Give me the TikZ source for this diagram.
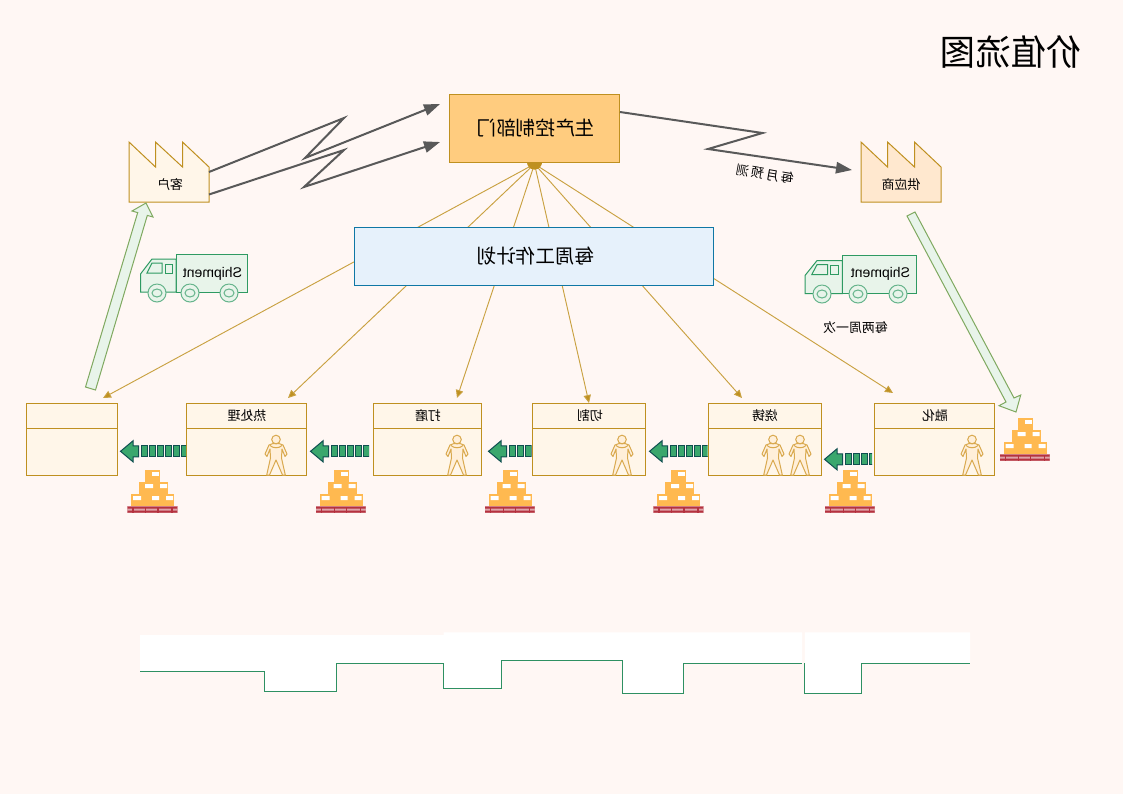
\documentclass[tikz,border=0pt]{standalone}
\usepackage{graphicx}
\usepackage{fontspec}
\usetikzlibrary{arrows.meta}
\setmainfont{Noto Sans CJK SC}
\newfontfamily\latinfont{Liberation Sans}
\definecolor{paper}{HTML}{FFF7F4}
\definecolor{gold}{HTML}{BF9020}
\definecolor{cream}{HTML}{FFF6E9}
\definecolor{peach}{HTML}{FFE8CF}
\definecolor{amber}{HTML}{FFCC7F}
\definecolor{skyfill}{HTML}{E6F1FB}
\definecolor{skyline}{HTML}{0F77A5}
\definecolor{slate}{HTML}{595959}
\definecolor{mint}{HTML}{E8F4EA}
\definecolor{truckline}{HTML}{2E9A62}
\definecolor{wheelline}{HTML}{66B48C}
\definecolor{leaf}{HTML}{7FA960}
\definecolor{pushfill}{HTML}{3AA76D}
\definecolor{pushline}{HTML}{0F4F50}
\definecolor{crate}{HTML}{FFB950}
\definecolor{pallet}{HTML}{B5323F}
\definecolor{skin}{HTML}{FFEFD9}
\definecolor{skinline}{HTML}{D9A94E}
\definecolor{stepline}{HTML}{2E9062}
\def\pxu{0.75pt}
% mirrored lettering
\newcommand\mir[1]{\scalebox{-1}[1]{#1}}
\tikzset{
  boxbase/.style={draw=gold,line width=0.75pt,inner sep=0pt,outer sep=0pt},
  procbox/.style={boxbase,fill=cream,minimum height=72*\pxu},
  planbox/.style={boxbase,fill=amber,minimum width=170.5*\pxu,minimum height=68*\pxu,font=\fontsize{14.7pt}{16pt}\selectfont},
  weekbox/.style={draw=skyline,fill=skyfill,line width=0.75pt,inner sep=0pt,minimum width=359.5*\pxu,minimum height=58.5*\pxu,font=\fontsize{14.7pt}{16pt}\selectfont},
  smalltext/.style={font=\fontsize{9.7pt}{11pt}\selectfont,inner sep=0pt},
  trucktext/.style={font=\latinfont\fontsize{10.5pt}{12pt}\selectfont,inner sep=0pt},
  infoline/.style={draw=gold!85,line width=0.7pt},
  infotip/.style={infoline,-{Triangle[length=6pt,width=5.5pt,fill=gold]}},
  zigzag/.style={draw=slate,line width=1.5pt,miter limit=10,-{Triangle[length=12pt,width=8.5pt,fill=slate]}},
  shiparrow/.style={draw=leaf,fill=mint,line width=0.75pt,line join=miter},
  factory/.style={draw=gold,line width=0.75pt},
}
% factory outline, top left corner at the origin of the scope
\newcommand\factoryshape[1]{%
  \draw[factory,fill=#1] (0,0) -- (26.5,25) -- (26.5,0) -- (53.5,25) -- (53.5,0) -- (80,25) -- (80,60) -- (0,60) -- cycle;}
% truck with its cab to the left; origin at the lower left of the cab
\newcommand\truckshape{%
  \draw[truckline,fill=mint,line width=0.75pt] (35.5,0) -- (35.5,-38) -- (106.5,-38) -- (106.5,0) -- cycle;
  \draw[truckline,fill=mint,line width=0.75pt] (35.5,0) -- (0,0) -- (0,-18) -- (11.5,-33) -- (35.5,-33) -- cycle;
  \draw[truckline,line width=0.75pt] (6.5,-19) -- (11.5,-29) -- (21.5,-29) -- (21.5,-19) -- cycle;
  \draw[truckline,line width=0.75pt] (24.5,-28) rectangle (32,-19);
}
\newcommand\wheelshape[1]{%
  \draw[wheelline,fill=mint,line width=0.75pt] (#1) circle[radius=9];
  \draw[wheelline,line width=0.75pt] (#1) circle[x radius=5,y radius=4];
}
% standing operator, feet on the origin
\newcommand\operator[1]{%
  \begin{scope}[shift={(#1,475)}]
    \draw[skinline,fill=skin,line width=0.75pt,line join=round]
      (-3,-31.5) -- (-7,-30) -- (-11,-21) -- (-9,-18.5) -- (-6,-26) -- (-5.5,-17) -- (-9.3,0) -- (-6.5,0) -- (0,-15)
      -- (6.5,0) -- (9.3,0) -- (5.5,-17) -- (6,-26) -- (9,-18.5) -- (11,-21) -- (7,-30) -- (3,-31.5) -- cycle;
    \draw[skinline,line width=0.75pt] (-6,-29.5) .. controls (-3,-26.5) and (3,-26.5) .. (6,-29.5);
    \draw[skinline,fill=skin,line width=0.75pt] (0,-35.5) circle[radius=4.3];
  \end{scope}}
% pile of crates on a pallet
\newcommand\cratepile[2]{%
  \begin{scope}[shift={(#1,#2)}]
    \fill[crate] (18,0) rectangle (33,12);
    \fill[crate] (12,12) rectangle (41,24);
    \fill[crate] (4,24) rectangle (47,36);
    \fill[white] (25,2) rectangle (32,6);
    \fill[white] (18,14) rectangle (26,18) (33,14) rectangle (40,18);
    \fill[white] (6,26) rectangle (14,30) (25,26) rectangle (32,30) (39,26) rectangle (46,30);
    \fill[pallet!45] (0,36) rectangle (50.5,42.7);
    \fill[pallet] (0.5,36.6) rectangle (50,38.6) (0.5,40.6) rectangle (50,42.6);
    \foreach \t in {6,18.5,31,45} \fill[pallet] (\t-0.6,36.6) rectangle (\t+0.6,42.6);
  \end{scope}}
% push arrow pointing left: tip x, tail x, centre y
\newcommand\pusharrow[3]{%
  \begin{scope}[shift={(#1,#3)}]
    \filldraw[draw=pushline,fill=pushfill,line width=0.75pt] (0,0) -- (12.5,-10.5) -- (12.5,-5.5) -- (18,-5.5) -- (18,5.5) -- (12.5,5.5) -- (12.5,10.5) -- cycle;
    \pgfmathsetmacro\lastx{#2-#1}
    \begin{scope}
      \clip (19.5,-7) rectangle (\lastx,7);
      \foreach \b in {20.5,28.5,...,76.5} \filldraw[draw=pushline,fill=pushfill,line width=0.75pt] (\b,-5.5) rectangle (\b+6,5.5);
    \end{scope}
  \end{scope}}
\begin{document}
\begin{tikzpicture}[x=\pxu,y=-\pxu]
\useasboundingbox (0,0) rectangle (1123,794);
\fill[paper] (0,0) rectangle (1123,794);

\node[inner sep=0pt,font=\fontsize{26.5pt}{30pt}\selectfont] (title) at (1011,52) {\mir{价值流图}};

% anchor points of the information flow
\coordinate (hub) at (534.5,164);
\coordinate (toShip) at (103,398);
\coordinate (toHeat) at (288,398);
\coordinate (toGrind) at (457,398);
\coordinate (toCut) at (589,403);
\coordinate (toCast) at (742,398);
\coordinate (toMelt) at (893,393);
\foreach \t in {toShip,toHeat,toGrind,toCut,toCast,toMelt}
  \draw[infotip] (hub) -- (\t);
\begin{scope}
  \clip (520,162) rectangle (550,175);
  \fill[gold] (534.5,162) circle[radius=7.6];
\end{scope}

\node[planbox] (plan) at (534.5,128) {\hspace*{2pt}\mir{生产控制部门}};
\node[weekbox] (week) at (534,256.5) {\hspace*{2.5pt}\mir{每周工作计划}};

% customer and supplier
\begin{scope}[shift={(129,142)}]\factoryshape{cream}\end{scope}
\node[smalltext] (customer) at (170,185) {\mir{客户}};
\begin{scope}[shift={(861,142)}]\factoryshape{peach}\end{scope}
\node[smalltext] (supplier) at (901,185) {\mir{供应商}};

% electronic information links
\coordinate (custA) at (209,172);
\coordinate (custB) at (209,194.5);
\coordinate (planA) at (440,104);
\coordinate (planB) at (440,142);
\coordinate (planC) at (620,112);
\coordinate (suppA) at (852,170);
\draw[zigzag] (custA) -- (344,118) -- (305,158) -- (planA);
\draw[zigzag] (custB) -- (344,150) -- (304,187) -- (planB);
\draw[zigzag] (planC) -- (762.5,133) -- (708,149) -- (suppA);
\node[smalltext,rotate=-10] (forecast) at (765,174) {\mir{每\,月\,预\,测}};

% shipment arrows
\draw[shiparrow] (85.5,387) -- (137.7,212.6) -- (132,211) -- (146,203) -- (153,217) -- (147.3,215.4) -- (95.5,390) -- cycle;
\draw[shiparrow] (907,216) -- (1006,402) -- (999,405.7) -- (1016,412) -- (1020.7,395) -- (1014,398) -- (915,212) -- cycle;

% trucks
\begin{scope}[shift={(140.5,292)}]\truckshape\end{scope}
\wheelshape{157,293}\wheelshape{190,293}\wheelshape{229,293}
\node[trucktext] (shipA) at (212.5,274) {\mir{Shipment}};
\begin{scope}[shift={(805,293.5)},xscale=1.05]\truckshape\end{scope}
\wheelshape{822,294}\wheelshape{858,294}\wheelshape{898,294}
\node[trucktext] (shipB) at (880.5,274) {\mir{Shipment}};
\node[smalltext] (biweek) at (855.5,328) {\mir{每两周一次}};

% process boxes with their header rules
\node[procbox,minimum width=91*\pxu] (ship) at (72,439) {};
\node[procbox,minimum width=120.5*\pxu] (heat) at (246.3,439) {};
\node[procbox,minimum width=108.5*\pxu] (grind) at (427.5,439) {};
\node[procbox,minimum width=113.5*\pxu] (cut) at (588.8,439) {};
\node[procbox,minimum width=113.5*\pxu] (cast) at (764.8,439) {};
\node[procbox,minimum width=120.5*\pxu] (melt) at (934.4,439) {};
\foreach \t in {ship,heat,grind,cut,cast,melt}
  \draw[gold,line width=0.75pt] (\t.west |- 0,428) -- (\t.east |- 0,428);
\node[smalltext] (heatT) at (247,415.5) {\mir{热处理}};
\node[smalltext] (grindT) at (428,415.5) {\mir{打磨}};
\node[smalltext] (cutT) at (590,415.5) {\mir{切割}};
\node[smalltext] (castT) at (765,415.5) {\mir{烧铸}};
\node[smalltext] (meltT) at (935,415.5) {\mir{融化}};

\operator{276}\operator{457}\operator{622}\operator{773}\operator{800}\operator{972}

\pusharrow{120.5}{186}{451.3}
\pusharrow{310.5}{369}{451.3}
\pusharrow{488.5}{531.5}{451.3}
\pusharrow{649.5}{707.5}{451.3}
\pusharrow{824.5}{872}{459.3}

\cratepile{127}{470}
\cratepile{315.7}{470}
\cratepile{484.7}{470}
\cratepile{653}{470}
\cratepile{824.7}{470}
\cratepile{999.7}{418}

% timeline
\fill[white] (140,635) -- (443.5,635) -- (443.5,632.3) -- (802,632.3) -- (802,663) -- (683,663) -- (683,693.3) -- (622.7,693.3) -- (622.7,660) -- (501.5,660) -- (501.5,688.3) -- (443.5,688.3) -- (443.5,663) -- (336,663) -- (336,691) -- (264.5,691) -- (264.5,671) -- (140,671) -- cycle;
\fill[white] (804.8,632.3) -- (970,632.3) -- (970,663) -- (861,663) -- (861,693.3) -- (804.8,693.3) -- cycle;
\draw[stepline,line width=0.75pt] (140,671) -- (264.5,671) -- (264.5,691) -- (336,691) -- (336,663) -- (443.5,663) -- (443.5,688.3) -- (501.5,688.3) -- (501.5,660) -- (622.7,660) -- (622.7,693.3) -- (683,693.3) -- (683,663) -- (802,663);
\draw[stepline,line width=0.75pt] (804.8,663) -- (804.8,693.3) -- (861,693.3) -- (861,663) -- (970,663);
\end{tikzpicture}
\end{document}
